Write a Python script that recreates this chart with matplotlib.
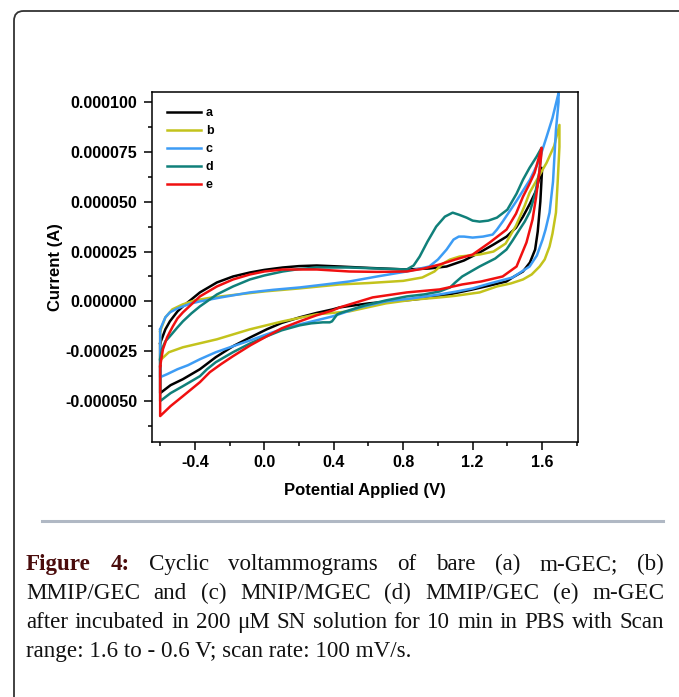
import numpy as np
import matplotlib
matplotlib.use("Agg")
import matplotlib.pyplot as plt
from matplotlib.patches import FancyBboxPatch
from matplotlib.lines import Line2D
from matplotlib.ticker import MultipleLocator, FuncFormatter

# Cyclic voltammograms, potential in V, current in microamps
# forward scan (upper branch) -0.6 -> vertex, then reverse scan (lower branch) back to -0.6

a_up_x = [-0.6, -0.57, -0.544, -0.5, -0.469, -0.42, -0.371, -0.273, -0.18, -0.083, 0.0, 0.106, 0.2, 0.302,
          0.435, 0.6, 0.82, 0.95, 1.05, 1.15, 1.24, 1.32, 1.396, 1.45, 1.49, 1.53, 1.568, 1.597]
a_up_y = [-21, -14, -10, -5, -2.5, 1, 4.5, 9.5, 12.5, 14.5, 15.8, 17, 17.7, 18,
          17.5, 16.8, 16, 16.5, 17.5, 20.5, 24.5, 28.5, 32.5, 37, 42.5, 49, 56, 67]
a_dn_x = [1.6, 1.59, 1.575, 1.56, 1.53, 1.49, 1.43, 1.395, 1.3, 1.2, 1.01, 0.85, 0.72, 0.6, 0.435, 0.394,
          0.3, 0.204, 0.1, 0.014, -0.08, -0.181, -0.28, -0.371, -0.42, -0.469, -0.54, -0.6]
a_dn_y = [66, 50, 35, 26, 19.5, 15, 12, 10, 8, 6, 2.5, 0.8, 0, -1, -3, -4,
          -5.8, -8, -10.8, -14, -18, -22.5, -28, -34, -36.5, -39, -42, -46]

b_up_x = [-0.6, -0.57, -0.53, -0.47, -0.4, -0.3, -0.15, 0.0, 0.2, 0.435, 0.6, 0.8, 0.91, 0.98, 1.03,
          1.07, 1.125, 1.18, 1.24, 1.32, 1.39, 1.45, 1.5, 1.528, 1.58, 1.626, 1.67, 1.70]
b_up_y = [-15, -8, -4, -1.5, 0.5, 2, 3.5, 5, 6.5, 8.5, 9.2, 10.3, 12, 15, 19,
          21, 22.5, 23, 23.5, 25, 29, 38, 48, 54.5, 62.5, 69.5, 78, 88.5]
b_dn_x = [1.70, 1.69, 1.68, 1.66, 1.643, 1.615, 1.586, 1.54, 1.49, 1.42, 1.34, 1.24, 1.1, 1.01, 0.85,
          0.7, 0.49, 0.3, 0.106, -0.083, -0.273, -0.469, -0.55, -0.6]
b_dn_y = [77.5, 60, 44.5, 34, 27.5, 21, 17.5, 13.5, 11, 9, 7.5, 4.5, 2.8, 2, 0.8,
          -1, -5, -6.5, -10, -14, -19, -23, -25.5, -29.5]

c_up_x = [-0.6, -0.57, -0.544, -0.5, -0.469, -0.42, -0.371, -0.25, -0.083, 0.05, 0.204, 0.35, 0.49, 0.65,
          0.82, 0.95, 1.0, 1.05, 1.09, 1.12, 1.15, 1.2, 1.26, 1.315, 1.34, 1.373, 1.45, 1.53, 1.58,
          1.626, 1.66, 1.695]
c_up_y = [-14, -8, -5.5, -3.5, -2.5, -1, 0, 2, 4.5, 5.8, 7, 8.5, 10, 12.5,
          15, 17.5, 21, 26, 31, 32.5, 32.5, 32, 32.5, 33.5, 36, 40, 50, 61, 70,
          82.5, 92, 104.5]
c_dn_x = [1.695, 1.68, 1.663, 1.643, 1.62, 1.603, 1.57, 1.528, 1.43, 1.3, 1.2, 1.11, 1.01, 0.85, 0.7,
          0.55, 0.394, 0.3, 0.204, 0.1, 0.014, -0.08, -0.181, -0.28, -0.371, -0.44, -0.5, -0.56, -0.6]
c_dn_y = [100, 86, 60, 44.5, 36, 31, 23, 17.5, 12, 9, 6.5, 5, 3.5, 1.5, 0,
          -3, -7.5, -9.5, -11.5, -14, -16.5, -19.5, -22.5, -25.5, -29, -32, -34, -36.5, -38]

d_up_x = [-0.6, -0.59, -0.57, -0.544, -0.5, -0.469, -0.42, -0.371, -0.273, -0.18, -0.083, 0.0, 0.106,
          0.2, 0.302, 0.49, 0.65, 0.82, 0.86, 0.895, 0.94, 0.99, 1.04, 1.085, 1.12, 1.165, 1.2, 1.24,
          1.29, 1.34, 1.4, 1.453, 1.49, 1.528, 1.568, 1.597]
d_up_y = [-29, -24, -20, -17.5, -13, -10, -6, -2.5, 3.5, 7.5, 11, 13, 15,
          16.2, 17, 17, 16.5, 16, 18, 22.5, 30, 37.5, 42.5, 44.5, 43.5, 42, 40.5, 40,
          40.5, 42, 46, 54, 61, 67, 72.5, 77]
d_dn_x = [1.597, 1.585, 1.56, 1.53, 1.5, 1.47, 1.43, 1.395, 1.33, 1.24, 1.18, 1.14, 1.1, 1.07, 1.01,
          0.92, 0.82, 0.7, 0.58, 0.45, 0.42, 0.39, 0.377, 0.337, 0.27, 0.204, 0.1, 0.014, -0.08,
          -0.181, -0.28, -0.33, -0.371, -0.42, -0.469, -0.54, -0.6]
d_dn_y = [77, 65, 54, 45, 40, 36, 30.5, 26, 21.5, 17.5, 14.5, 12.5, 9.5, 7, 5,
          3.5, 2.5, 0.5, -2, -5.5, -6.5, -10, -10.5, -10.5, -11, -12, -14.5, -17.5, -21,
          -25.5, -30.5, -34, -37.5, -40, -42.5, -46, -50]

e_up_x = [-0.6, -0.584, -0.56, -0.527, -0.5, -0.469, -0.42, -0.371, -0.273, -0.18, -0.083, 0.0, 0.106,
          0.302, 0.49, 0.65, 0.82, 0.92, 1.01, 1.1, 1.2, 1.298, 1.395, 1.45, 1.49, 1.525, 1.557, 1.597]
e_up_y = [-32.5, -24, -18, -12.5, -8.5, -5.5, -1.5, 2.5, 7.5, 11, 13.5, 15, 16,
          16, 15, 14.8, 15, 16.5, 18.5, 21, 23.5, 29.5, 36, 44, 52.5, 58.5, 64.5, 77]
e_dn_x = [1.595, 1.586, 1.565, 1.545, 1.51, 1.453, 1.373, 1.25, 1.14, 1.01, 0.82, 0.624, 0.435, 0.394,
          0.3, 0.204, 0.1, 0.014, -0.08, -0.181, -0.25, -0.314, -0.371, -0.42, -0.469, -0.54, -0.6]
e_dn_y = [73, 66, 52, 41, 29.5, 17.5, 12.5, 10, 8.5, 6, 4.5, 2, -3, -4.5,
          -7, -10, -13.5, -17.5, -22, -27.5, -31.5, -35.5, -40.5, -44, -47.5, -52.5, -57.5]

labels = ["a", "b", "c", "d", "e"]
colors = ["#000000", "#c3c31c", "#3d9cf5", "#10807a", "#f01010"]
curves = [(a_up_x, a_up_y, a_dn_x, a_dn_y),
          (b_up_x, b_up_y, b_dn_x, b_dn_y),
          (c_up_x, c_up_y, c_dn_x, c_dn_y),
          (d_up_x, d_up_y, d_dn_x, d_dn_y),
          (e_up_x, e_up_y, e_dn_x, e_dn_y)]

W, H = 679, 697
fig = plt.figure(figsize=(W / 100, H / 100), dpi=100)
ax = fig.add_axes([152 / W, 1 - 442 / H, 426 / W, 350 / H])

for (ux, uy, dx, dy), lab, col in zip(curves, labels, colors):
    x = np.array(ux + dx + ux[:1])
    y = np.array(uy + dy + uy[:1]) * 1e-6
    ax.plot(x, y, color=col, lw=1.8, label=lab, solid_joinstyle="round")

ax.set_xlim(-0.647, 1.807)
ax.set_ylim(-70.5e-6, 105e-6)
ax.xaxis.set_major_locator(MultipleLocator(0.4))
ax.xaxis.set_minor_locator(MultipleLocator(0.2))
ax.yaxis.set_major_locator(MultipleLocator(25e-6))
ax.yaxis.set_minor_locator(MultipleLocator(12.5e-6))
ax.yaxis.set_major_formatter(FuncFormatter(lambda v, p: f"{v:.6f}" if abs(v) > 1e-9 else "0.000000"))
ax.xaxis.set_major_formatter(FuncFormatter(lambda v, p: f"{v:.1f}" if abs(v) > 1e-9 else "0.0"))

tickfont = dict(family="Liberation Sans", weight="bold", size=11.5)
for lab in ax.get_xticklabels() + ax.get_yticklabels():
    lab.set_fontproperties(matplotlib.font_manager.FontProperties(**tickfont))
ax.tick_params(which="major", direction="out", length=5.5, width=1.1, pad=4)
ax.tick_params(which="minor", direction="out", length=3, width=1.1)
ax.tick_params(axis="y", which="major", pad=5)
for s in ax.spines.values():
    s.set_linewidth(1.1)

ax.set_xlabel("Potential Applied (V)", fontsize=12, fontweight="bold", family="Liberation Sans", labelpad=9)
ax.set_ylabel("Current (A)", fontsize=12, fontweight="bold", family="Liberation Sans", labelpad=2)

ax.legend(loc="upper left", frameon=False, handlelength=2.7, handletextpad=0.4,
          labelspacing=0.48, borderaxespad=0.8,
          prop=dict(family="Liberation Sans", weight="bold", size=9))

# page frame and rule
frame = FancyBboxPatch((14 / W, -0.05), 1.2, 1 - 11 / H + 0.05, transform=fig.transFigure,
                       boxstyle="round,pad=0,rounding_size=0.014", fill=False,
                       edgecolor="#333333", lw=1.3)
fig.add_artist(frame)
fig.add_artist(Line2D([42 / W, 663 / W], [1 - 521 / H] * 2, transform=fig.transFigure,
                      color="#b0b8c4", lw=2.2))

# caption, justified
cap_lines = [
    [("Figure", True), ("4:", True), ("Cyclic", False), ("voltammograms", False), ("of", False),
     ("bare", False), ("(a)", False), ("m-GEC;", False), ("(b)", False)],
    [(w, False) for w in "MMIP/GEC and (c) MNIP/MGEC (d) MMIP/GEC (e) m-GEC".split()],
    [(w, False) for w in "after incubated in 200 μM SN solution for 10 min in PBS with Scan".split()],
]
last_line = "range: 1.6 to - 0.6 V; scan rate: 100 mV/s."
baselines = [570, 599, 628, 657]
x0, x1 = 26, 664
capsize = 16.6

fig.canvas.draw()
renderer = fig.canvas.get_renderer()
for words, yb in zip(cap_lines, baselines):
    texts = []
    for w, bold in words:
        t = fig.text(0, 1 - yb / H, w, fontsize=capsize, family="Liberation Serif",
                     fontweight="bold" if bold else "normal",
                     color="#4a0c0c" if bold else "#111111", va="baseline", ha="left")
        texts.append(t)
    widths = [t.get_window_extent(renderer).width for t in texts]
    gap = (x1 - x0 - sum(widths)) / (len(texts) - 1)
    xpos = x0
    for t, wd in zip(texts, widths):
        t.set_x(xpos / W)
        xpos += wd + gap
fig.text(x0 / W, 1 - baselines[3] / H, last_line, fontsize=capsize, family="Liberation Serif",
         color="#111111", va="baseline", ha="left")

fig.savefig("out.png", dpi=100)
